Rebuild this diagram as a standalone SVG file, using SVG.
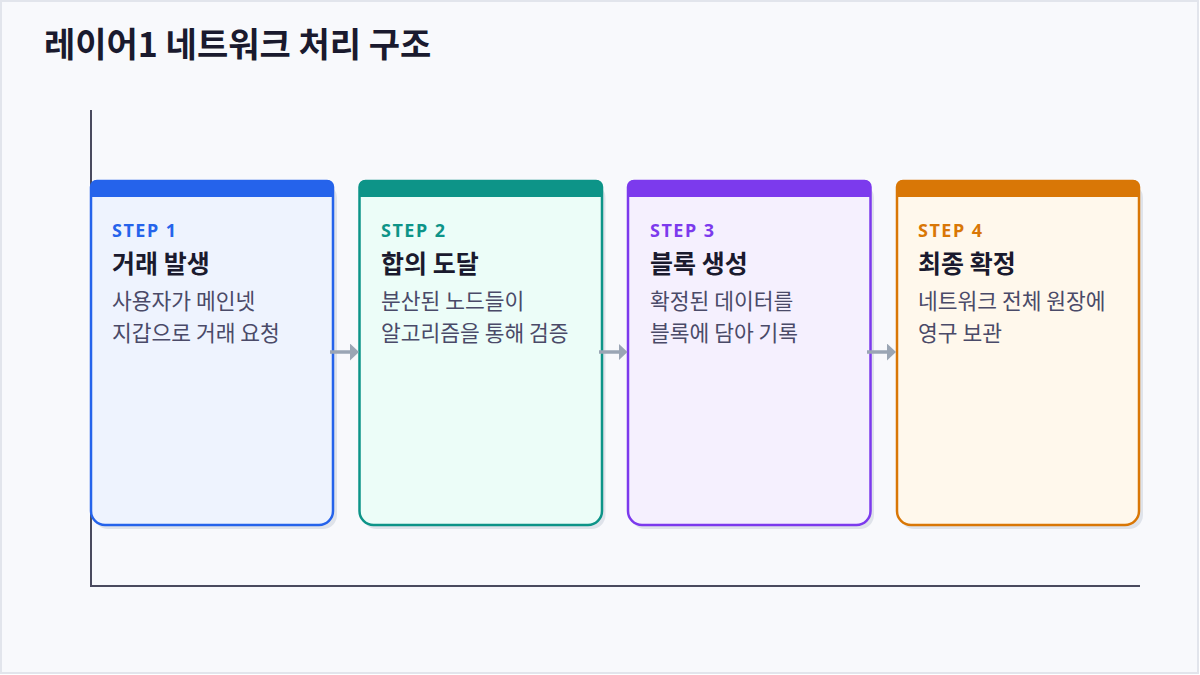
<svg xmlns="http://www.w3.org/2000/svg" width="1200" height="675" viewBox="0 0 1200 675">
<defs>
<style>
.step{font-family:"Noto Sans","Noto Sans CJK KR",sans-serif;font-size:18px;font-weight:700;letter-spacing:1.5px}
.ttl{font-family:"Noto Sans CJK KR",sans-serif;font-size:25px;font-weight:700;fill:#1a1a2e}
.desc{font-family:"Noto Sans CJK KR",sans-serif;font-size:21.5px;fill:#4a4a68}
.shadow{fill:#dfe3ea}
.conn{stroke:#9aa5b4;stroke-width:3.5;fill:none}
</style>
<marker id="ah" viewBox="0 0 9 17" refX="2" refY="8.5" markerWidth="9" markerHeight="17" orient="auto" markerUnits="userSpaceOnUse">
<path d="M0,0 L9,8.5 L0,17 z" fill="#9aa5b4"/>
</marker>
</defs>
<rect x="1" y="1" width="1197" height="672" fill="#f8f9fc" stroke="#e2e5ec" stroke-width="2"/>
<text x="44" y="57" font-family="'Noto Sans CJK KR',sans-serif" font-size="34" font-weight="700" fill="#1a1a2e">레이어1 네트워크 처리 구조</text>
<g id="axes" stroke="#4a4a5e" stroke-width="2" fill="none">
<path d="M91,110 V586 H1140"/>
</g>
<g id="step1">
<rect class="shadow" x="94" y="184" width="243" height="345" rx="14"/>
<path d="M97,181 H327 A6,6 0 0 1 333,187 V511 A14,14 0 0 1 319,525 H105 A14,14 0 0 1 91,511 V187 A6,6 0 0 1 97,181 Z" fill="#eef3fe" stroke="#2563eb" stroke-width="2.5"/>
<path d="M97,180 H327 A6,6 0 0 1 333,186 V197 H91 V186 A6,6 0 0 1 97,180 Z" fill="#2563eb"/>
<text class="step" x="112" y="237" fill="#2563eb">STEP 1</text>
<text class="ttl" x="112" y="273">거래 발생</text>
<text class="desc" x="112" y="309">사용자가 메인넷</text>
<text class="desc" x="112" y="341">지갑으로 거래 요청</text>
</g>
<g id="step2">
<rect class="shadow" x="362.5" y="184" width="243" height="345" rx="14"/>
<path d="M365.5,181 H596 A6,6 0 0 1 602,187 V511 A14,14 0 0 1 588,525 H373.5 A14,14 0 0 1 359.5,511 V187 A6,6 0 0 1 365.5,181 Z" fill="#ecfdf8" stroke="#0d9488" stroke-width="2.5"/>
<path d="M365.5,180 H596 A6,6 0 0 1 602,186 V197 H359.5 V186 A6,6 0 0 1 365.5,180 Z" fill="#0d9488"/>
<text class="step" x="381" y="237" fill="#0d9488">STEP 2</text>
<text class="ttl" x="381" y="273">합의 도달</text>
<text class="desc" x="381" y="309">분산된 노드들이</text>
<text class="desc" x="381" y="341">알고리즘을 통해 검증</text>
</g>
<g id="step3">
<rect class="shadow" x="631" y="184" width="243" height="345" rx="14"/>
<path d="M634,181 H864.5 A6,6 0 0 1 870.5,187 V511 A14,14 0 0 1 856.5,525 H642 A14,14 0 0 1 628,511 V187 A6,6 0 0 1 634,181 Z" fill="#f5f0fe" stroke="#7c3aed" stroke-width="2.5"/>
<path d="M634,180 H864.5 A6,6 0 0 1 870.5,186 V197 H628 V186 A6,6 0 0 1 634,180 Z" fill="#7c3aed"/>
<text class="step" x="650" y="237" fill="#7c3aed">STEP 3</text>
<text class="ttl" x="650" y="273">블록 생성</text>
<text class="desc" x="650" y="309">확정된 데이터를</text>
<text class="desc" x="650" y="341">블록에 담아 기록</text>
</g>
<g id="step4">
<rect class="shadow" x="900" y="184" width="243" height="345" rx="14"/>
<path d="M903,181 H1133 A6,6 0 0 1 1139,187 V511 A14,14 0 0 1 1125,525 H911 A14,14 0 0 1 897,511 V187 A6,6 0 0 1 903,181 Z" fill="#fff8ec" stroke="#d97706" stroke-width="2.5"/>
<path d="M903,180 H1133 A6,6 0 0 1 1139,186 V197 H897 V186 A6,6 0 0 1 903,180 Z" fill="#d97706"/>
<text class="step" x="918" y="237" fill="#d97706">STEP 4</text>
<text class="ttl" x="918" y="273">최종 확정</text>
<text class="desc" x="918" y="309">네트워크 전체 원장에</text>
<text class="desc" x="918" y="341">영구 보관</text>
</g>
<g id="connectors">
<line class="conn" x1="330" y1="352" x2="352" y2="352" marker-end="url(#ah)"/>
<line class="conn" x1="599" y1="352" x2="620.5" y2="352" marker-end="url(#ah)"/>
<line class="conn" x1="867" y1="352" x2="889" y2="352" marker-end="url(#ah)"/>
</g>
</svg>
